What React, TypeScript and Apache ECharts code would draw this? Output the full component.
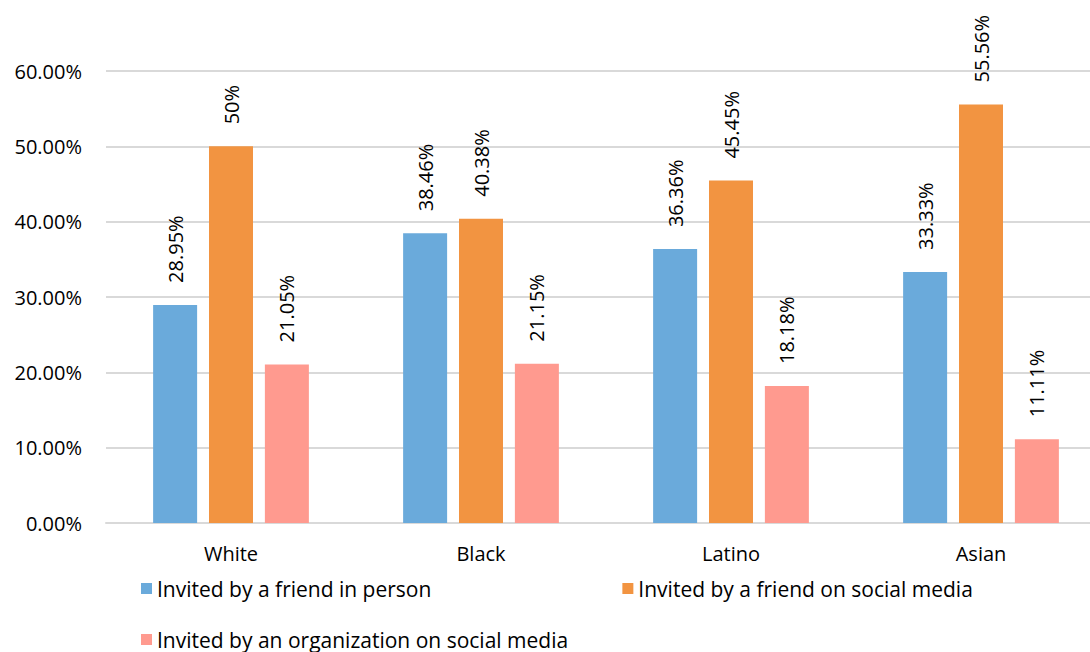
import React, { useEffect, useRef } from "react";
import * as echarts from "echarts";

const categories = ["White", "Black", "Latino", "Asian"];
const seriesNames = [
  "Invited by a friend in person",
  "Invited by a friend on social media",
  "Invited by an organization on social media",
];
const inPerson = [28.95, 38.46, 36.36, 33.33];
const friendSocial = [50, 40.38, 45.45, 55.56];
const orgSocial = [21.05, 21.15, 18.18, 11.11];
const labelsInPerson = ["28.95%", "38.46%", "36.36%", "33.33%"];
const labelsFriendSocial = ["50%", "40.38%", "45.45%", "55.56%"];
const labelsOrgSocial = ["21.05%", "21.15%", "18.18%", "11.11%"];
const colors = ["#6aaadb", "#f29441", "#ff9a8f"];

const FONT = "'Open Sans', 'DejaVu Sans', sans-serif";

export default function App() {
  const ref = useRef<HTMLDivElement>(null);
  useEffect(() => {
    if (!ref.current) return;
    const chart = echarts.init(ref.current, undefined, { renderer: "svg" });
    const datas = [inPerson, friendSocial, orgSocial];
    const labels = [labelsInPerson, labelsFriendSocial, labelsOrgSocial];
    const legendText = { fontFamily: FONT, fontSize: 21, color: "#000" };
    chart.setOption({
      animation: false,
      backgroundColor: "#ffffff",
      grid: { left: 106, top: 71, width: 1000, height: 452, containLabel: false },
      legend: [
        {
          data: [seriesNames[0], seriesNames[1]],
          left: 141,
          top: 578,
          padding: 0,
          itemWidth: 11,
          itemHeight: 11,
          itemGap: 191,
          icon: "rect",
          textStyle: legendText,
        },
        {
          data: [seriesNames[2]],
          left: 141,
          top: 629,
          padding: 0,
          itemWidth: 11,
          itemHeight: 11,
          icon: "rect",
          textStyle: legendText,
        },
      ],
      xAxis: {
        type: "category",
        data: categories,
        axisLine: { lineStyle: { color: "#d9d9d9", width: 2 } },
        axisTick: { show: false },
        axisLabel: { fontFamily: FONT, fontSize: 20, color: "#000", margin: 20 },
      },
      yAxis: {
        type: "value",
        min: 0,
        max: 60,
        interval: 10,
        axisLine: { show: false },
        axisTick: { show: false },
        splitLine: { lineStyle: { color: "#d9d9d9", width: 2 } },
        axisLabel: {
          fontFamily: FONT,
          fontSize: 20,
          color: "#000",
          margin: 24,
          formatter: (v: number) => v.toFixed(2) + "%",
        },
      },
      series: datas.map((d, i) => ({
        name: seriesNames[i],
        type: "bar",
        data: d,
        barWidth: 44,
        barGap: "27%",
        itemStyle: { color: colors[i] },
        label: {
          show: true,
          position: "top",
          distance: 22,
          rotate: 90,
          align: "left",
          verticalAlign: "middle",
          fontFamily: FONT,
          fontSize: 20,
          color: "#000",
          formatter: (p: any) => labels[i][p.dataIndex],
        },
      })),
    });
    return () => chart.dispose();
  }, []);
  return (
    <div style={{ position: "absolute", left: 0, top: 0, width: 1090, height: 652, overflow: "hidden", background: "#fff" }}>
      <div ref={ref} style={{ width: 1106, height: 652 }} />
    </div>
  );
}
